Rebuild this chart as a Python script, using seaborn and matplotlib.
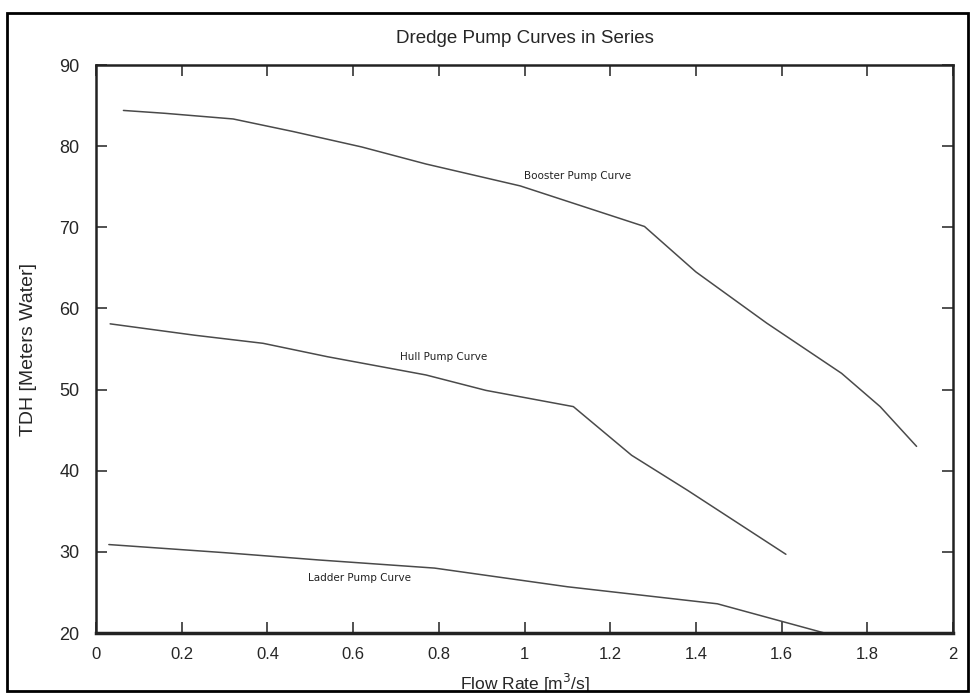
"""
Dredge pump curves in series: TDH vs flow rate for the ladder, hull and booster pumps.
Outputs: out.png
"""

import matplotlib.pyplot as plt
import numpy as np
import pandas as pd
import seaborn as sns
from matplotlib.patches import Rectangle
from matplotlib.ticker import FuncFormatter

# Booster pump curve (flow m^3/s, TDH m)
booster_flow = [0.064, 0.16, 0.32, 0.46, 0.62, 0.77, 0.99, 1.28, 1.40, 1.565, 1.74, 1.83, 1.915]
booster_tdh = [84.4, 84.05, 83.35, 81.8, 79.9, 77.8, 75.1, 70.1, 64.5, 58.2, 52.0, 47.9, 43.0]

# Hull pump curve
hull_flow = [0.033, 0.23, 0.39, 0.54, 0.77, 0.91, 1.114, 1.25, 1.38, 1.61]
hull_tdh = [58.1, 56.7, 55.7, 54.05, 51.8, 49.9, 47.9, 41.9, 37.6, 29.7]

# Ladder pump curve
ladder_flow = [0.03, 0.30, 0.52, 0.79, 1.10, 1.45, 1.70]
ladder_tdh = [30.9, 29.9, 29.0, 28.0, 25.7, 23.6, 20.0]

curve_names = ["Booster Pump Curve", "Hull Pump Curve", "Ladder Pump Curve"]
label_pos = [(1.124, 76.3), (0.811, 54.05), (0.614, 26.8)]

x_ticks = [0, 0.2, 0.4, 0.6, 0.8, 1, 1.2, 1.4, 1.6, 1.8, 2]
y_ticks = [20, 30, 40, 50, 60, 70, 80, 90]

sns.set_theme(style="white")
plt.rcParams["font.family"] = ["Liberation Sans", "DejaVu Sans"]
narrow = ["Liberation Sans Narrow", "Liberation Sans", "DejaVu Sans"]

fig = plt.figure(figsize=(9.74, 6.94), dpi=100)
ax = fig.add_axes([96 / 974, 1 - 633 / 694, (953 - 96) / 974, (633 - 65) / 694])

line_color = "#4a4a4a"
for flow, tdh in [(booster_flow, booster_tdh), (hull_flow, hull_tdh), (ladder_flow, ladder_tdh)]:
    df = pd.DataFrame({"flow": flow, "tdh": tdh})
    sns.lineplot(data=df, x="flow", y="tdh", sort=False, color=line_color,
                 linewidth=1.1, ax=ax)

for name, (lx, ly) in zip(curve_names, label_pos):
    ax.text(lx, ly, name, ha="center", va="center", fontsize=7.5,
            family="DejaVu Sans", color="#222222")

ax.set_xlim(0, 2)
ax.set_ylim(20, 90)
ax.set_xticks(x_ticks)
ax.set_yticks(y_ticks)
ax.xaxis.set_major_formatter(FuncFormatter(lambda v, _: f"{v:g}"))

ax.tick_params(axis="both", which="major", direction="in", length=8, width=1.2,
               color="#333333", top=True, right=True, bottom=True, left=True)
ax.tick_params(axis="x", labelsize=12, pad=10)
ax.tick_params(axis="y", labelsize=13, pad=12)
for lab in ax.get_xticklabels():
    lab.set_family(narrow)

for side, spine in ax.spines.items():
    spine.set_visible(True)
    spine.set_color("#222222")
    spine.set_linewidth(2.5 if side == "bottom" else 1.8)

ax.set_xlabel("Flow Rate [m$^3$/s]", fontsize=12.5, family=narrow, labelpad=7)
ax.set_ylabel("TDH [Meters Water]", fontsize=14, labelpad=16)
ax.set_title("Dredge Pump Curves in Series", fontsize=13.5, family=narrow, pad=16)

# frame around the whole figure
fig.patches.append(Rectangle((7 / 974, 1 - 691 / 694), (968 - 7) / 974, (691 - 13) / 694,
                             transform=fig.transFigure, fill=False,
                             edgecolor="black", linewidth=2))

fig.savefig("out.png", dpi=100)
